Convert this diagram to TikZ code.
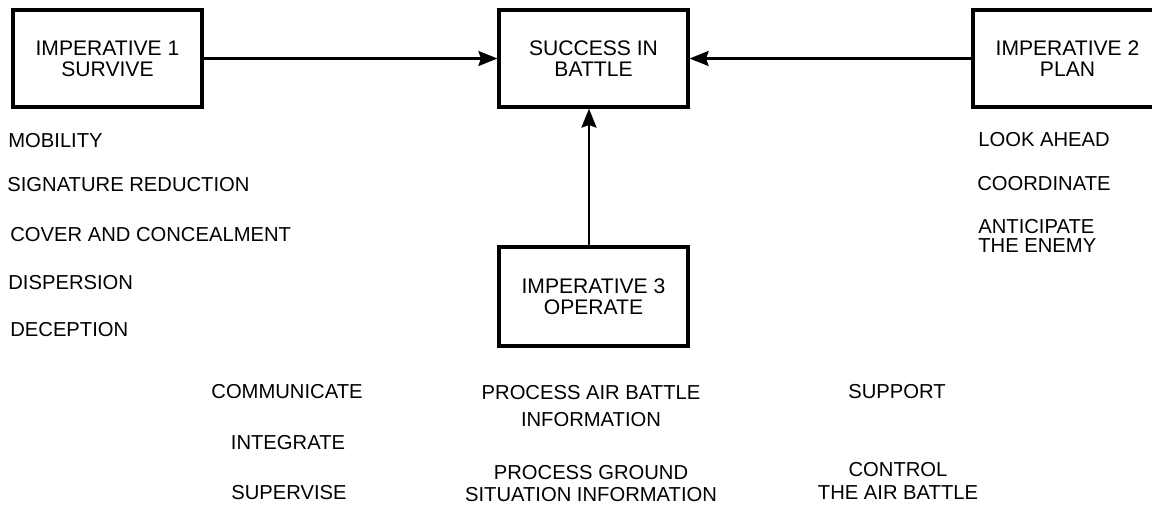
\documentclass[tikz,border=0pt]{standalone}
\usepackage{fontspec}
\setmainfont{Liberation Sans}
\usetikzlibrary{arrows.meta}

\begin{document}
\begin{tikzpicture}[x=0.2mm,y=-0.2mm,
    box/.style={draw, line width=1.8pt, minimum width=3.78cm, minimum height=1.94cm,
        align=center, font=\fontsize{12}{12}\selectfont},
    item/.style={inner sep=0pt, align=center, font=\fontsize{11.5}{13}\selectfont},
    arr/.style={line width=1.3pt, -{Stealth[length=3.8mm,width=3mm,inset=0.5mm]}}]
    \useasboundingbox (0,0) rectangle (1152,508);
    % the four boxes
    \node[box] (imp1) at (107.5,58.5) {IMPERATIVE 1\\SURVIVE};
    \node[box] (success) at (593.5,58.5) {SUCCESS IN\\BATTLE};
    \node[box] (imp2) at (1067.5,58.5) {IMPERATIVE 2\\PLAN};
    \node[box, minimum height=1.98cm] (imp3) at (593.5,296.5) {IMPERATIVE 3\\OPERATE};
    \draw[arr] (imp1) -- (success);
    \draw[arr] (imp2) -- (success);
    \draw[arr] ([xshift=-0.9mm]imp3.north) -- ([xshift=-0.9mm]success.south);
    % survive
    \node[item, anchor=west] (mobility) at (8,141) {MOBILITY};
    \node[item, anchor=west] (sigred) at (7,185) {SIGNATURE REDUCTION};
    \node[item, anchor=west] (cover) at (10,235) {COVER AND CONCEALMENT};
    \node[item, anchor=west] (dispersion) at (8,283) {DISPERSION};
    \node[item, anchor=west] (deception) at (10,330) {DECEPTION};
    % plan
    \node[item, anchor=west] (lookahead) at (978,140) {LOOK AHEAD};
    \node[item, anchor=west] (coordinate) at (977,184) {COORDINATE};
    \node[item, anchor=west, align=left] (anticipate) at (978,236) {ANTICIPATE\\[-2.5pt]THE ENEMY};
    % operate
    \node[item] (communicate) at (287,392) {COMMUNICATE};
    \node[item] (integrate) at (288,443) {INTEGRATE};
    \node[item] (supervise) at (289,493) {SUPERVISE};
    \node[item] (procair) at (591,406) {PROCESS AIR BATTLE\\[2.5pt]INFORMATION};
    \node[item] (procground) at (591,483.5) {PROCESS GROUND\\SITUATION INFORMATION};
    \node[item] (support) at (897,392) {SUPPORT};
    \node[item] (control) at (898,481) {CONTROL\\THE AIR BATTLE};
\end{tikzpicture}
\end{document}
